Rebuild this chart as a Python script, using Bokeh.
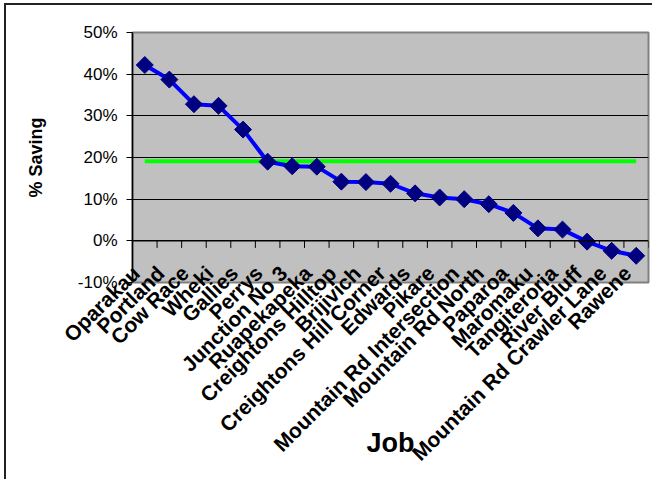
import numpy as np
from bokeh.plotting import figure
from bokeh.models import (Range1d, FixedTicker, NumeralTickFormatter,
                          ColumnDataSource, Span)
from bokeh.embed import file_html
from bokeh.resources import INLINE

jobs = ["Oparakau", "Portland", "Cow Race", "Wheki", "Gallies", "Perrys",
        "Junction No 3", "Ruapekapeka", "Creightons Hilltop", "Brijivich",
        "Creightons Hill Corner", "Edwards", "Pikare", "Mountain Rd Intersection",
        "Mountain Rd North", "Paparoa", "Maromaku", "Tangiteroria", "River Bluff",
        "Mountain Rd Crawler Lane", "Rawene"]
saving = [0.422, 0.387, 0.328, 0.324, 0.267, 0.190, 0.179, 0.178, 0.142, 0.141,
          0.137, 0.114, 0.104, 0.100, 0.088, 0.067, 0.030, 0.027, -0.002, -0.024, -0.036]
target = 0.191
y_ticks = [-0.1, 0.0, 0.1, 0.2, 0.3, 0.4, 0.5]
grid_ticks = [0.1, 0.2, 0.3, 0.4]
y_min, y_max = -0.1, 0.5

FONT = "Liberation Sans"

n = len(jobs)
centers = np.arange(n) + 0.5          # category slots on a 0..n axis
boundaries = np.arange(n + 1)         # slot edges, for the tick marks on the 0% line
label_pos = [round(float(c) - 0.36, 2) for c in centers]   # labels sit slightly left of centre

p = figure(x_range=Range1d(0, n), y_range=Range1d(y_min, y_max),
           width=648, height=476, output_backend="svg", toolbar_location=None,
           min_border_left=126, min_border_top=27, min_border_right=6,
           min_border_bottom=199)
p.styles = {"margin-left": "4px", "margin-top": "3px",
            "border-left": "2px solid #222222", "border-top": "2px solid #222222"}

p.background_fill_color = "#C0C0C0"
p.border_fill_color = "white"
p.outline_line_color = "#808080"
p.outline_line_width = 2

p.xgrid.visible = False
p.ygrid.ticker = FixedTicker(ticks=grid_ticks)
p.ygrid.grid_line_color = "#000000"
p.ygrid.grid_line_width = 1

p.add_layout(Span(location=0, dimension="width", line_color="black", line_width=1.5))

p.segment(x0=boundaries, y0=0, x1=boundaries, y1=-0.017,
          line_color="black", line_width=1)

src = ColumnDataSource(dict(x=centers, job=jobs, saving=saving,
                            target=[target] * n))
p.line(x="x", y="target", source=src, line_color="#00FF00", line_width=4)
p.line(x="x", y="saving", source=src, line_color="#0000FF", line_width=4)
p.scatter(x="x", y="saving", source=src, marker="square", angle=np.pi / 4,
          size=12, fill_color="#000080", line_color="#000080", line_width=1)

# y axis
p.yaxis.ticker = FixedTicker(ticks=y_ticks)
p.yaxis.formatter = NumeralTickFormatter(format="0%")
p.yaxis.major_label_text_font = FONT
p.yaxis.major_label_text_font_size = "17px"
p.yaxis.major_label_text_color = "black"
p.yaxis.major_tick_out = 6
p.yaxis.major_tick_in = 0
p.yaxis.minor_tick_line_color = None
p.yaxis.major_label_standoff = 9
p.yaxis.axis_line_color = "black"
p.yaxis.axis_line_width = 1.5
p.yaxis.axis_label = "% Saving"
p.yaxis.axis_label_text_font = FONT
p.yaxis.axis_label_text_font_style = "bold"
p.yaxis.axis_label_text_font_size = "18px"
p.yaxis.axis_label_text_color = "black"
p.yaxis.axis_label_standoff = 29

# x axis: job names
p.xaxis.ticker = FixedTicker(ticks=label_pos)
p.xaxis.major_label_overrides = {pos: job for pos, job in zip(label_pos, jobs)}
p.xaxis.major_label_orientation = np.pi / 4
p.xaxis.major_tick_line_color = None
p.xaxis.minor_tick_line_color = None
p.xaxis.axis_line_color = None
p.xaxis.major_label_text_font = FONT
p.xaxis.major_label_text_font_style = "bold"
p.xaxis.major_label_text_font_size = "21px"
p.xaxis.major_label_text_color = "black"
p.xaxis.major_label_standoff = -19
p.xaxis.axis_label = "Job"
p.xaxis.axis_label_text_font = FONT
p.xaxis.axis_label_text_font_style = "bold"
p.xaxis.axis_label_text_font_size = "27px"
p.xaxis.axis_label_text_color = "black"
p.xaxis.axis_label_standoff = -48

open("out.html", "w").write(file_html(p, INLINE))
